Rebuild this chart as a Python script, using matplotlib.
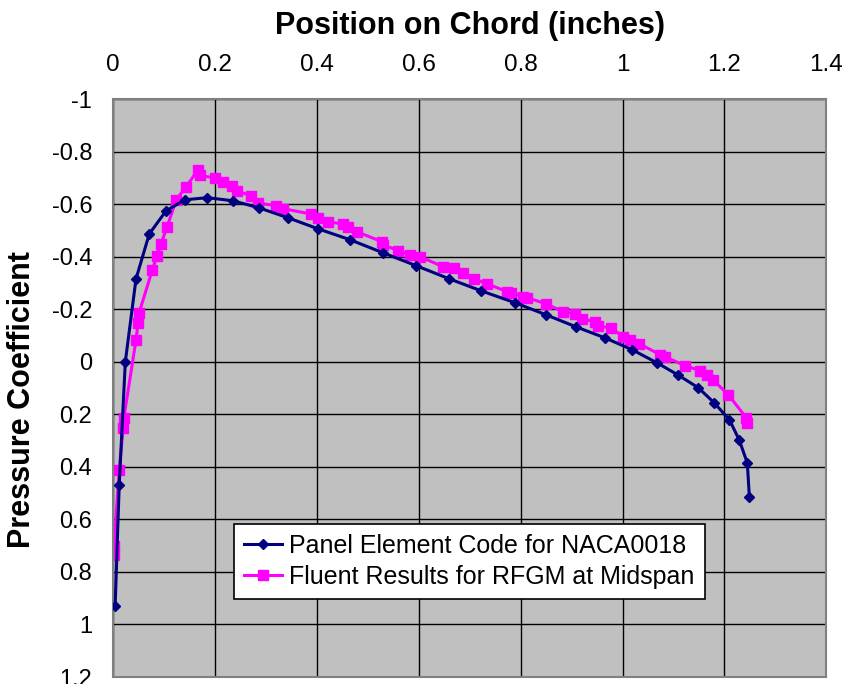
import matplotlib
matplotlib.use("Agg")
import matplotlib.pyplot as plt

# panel element code (NACA0018)
panel_x = [0.004, 0.012, 0.024, 0.045, 0.071, 0.104, 0.141, 0.185, 0.236, 0.287,
           0.344, 0.403, 0.465, 0.530, 0.595, 0.660, 0.723, 0.789, 0.850, 0.909,
           0.966, 1.019, 1.068, 1.109, 1.149, 1.180, 1.210, 1.229, 1.245, 1.249]
panel_cp = [0.93, 0.47, 0.0, -0.316, -0.487, -0.575, -0.617, -0.625, -0.613, -0.586,
            -0.548, -0.506, -0.465, -0.415, -0.366, -0.316, -0.27, -0.225, -0.179, -0.133,
            -0.091, -0.046, 0.004, 0.05, 0.099, 0.156, 0.221, 0.297, 0.385, 0.514]

# fluent results, RFGM at midspan
fluent_x = [0.002, 0.002, 0.012, 0.020, 0.021, 0.045, 0.049, 0.051, 0.077, 0.086,
            0.094, 0.106, 0.124, 0.143, 0.167, 0.170, 0.200, 0.216, 0.233, 0.244,
            0.270, 0.285, 0.320, 0.334, 0.388, 0.403, 0.422, 0.452, 0.462, 0.479,
            0.528, 0.530, 0.560, 0.583, 0.603, 0.648, 0.670, 0.687, 0.709, 0.734,
            0.774, 0.782, 0.805, 0.813, 0.850, 0.884, 0.907, 0.921, 0.946, 0.952,
            0.978, 1.001, 1.015, 1.033, 1.074, 1.084, 1.123, 1.153, 1.166, 1.178,
            1.208, 1.243, 1.245]
fluent_cp = [0.735, 0.70, 0.41, 0.25, 0.215, -0.084, -0.148, -0.186, -0.35, -0.403,
             -0.449, -0.514, -0.617, -0.666, -0.731, -0.71, -0.70, -0.686, -0.670, -0.651,
             -0.632, -0.605, -0.594, -0.583, -0.563, -0.548, -0.533, -0.525, -0.514, -0.495,
             -0.457, -0.446, -0.423, -0.407, -0.400, -0.362, -0.358, -0.339, -0.316, -0.297,
             -0.267, -0.263, -0.248, -0.244, -0.221, -0.190, -0.183, -0.164, -0.152, -0.137,
             -0.129, -0.095, -0.084, -0.069, -0.027, -0.019, 0.015, 0.034, 0.05, 0.069,
             0.126, 0.213, 0.232]

x_ticks = [0, 0.2, 0.4, 0.6, 0.8, 1, 1.2, 1.4]
x_labels = ["0", "0.2", "0.4", "0.6", "0.8", "1", "1.2", "1.4"]
y_ticks = [-1, -0.8, -0.6, -0.4, -0.2, 0, 0.2, 0.4, 0.6, 0.8, 1, 1.2]
y_labels = ["-1", "-0.8", "-0.6", "-0.4", "-0.2", "0", "0.2", "0.4", "0.6", "0.8", "1", "1.2"]

plt.rcParams['font.family'] = ['Liberation Sans', 'DejaVu Sans']
plt.rcParams['axes.unicode_minus'] = False

fig = plt.figure(figsize=(8.44, 6.84), dpi=100)
ax = fig.add_axes([0.134, 0.0102, 0.845, 0.8448])
ax.set_facecolor('#C0C0C0')

ax.plot(panel_x, panel_cp, color='#000080', lw=2.2, marker='D', ms=5.5,
        label='Panel Element Code for NACA0018', zorder=3)
ax.plot(fluent_x, fluent_cp, color='#FF00FF', lw=2.2, marker='s', ms=7,
        label='Fluent Results for RFGM at Midspan', zorder=2)

ax.set_xlim(0, 1.4)
ax.set_ylim(1.2, -1)
ax.set_xticks(x_ticks)
ax.set_xticklabels(x_labels, fontsize=17.5)
ax.set_yticks(y_ticks)
ax.set_yticklabels(y_labels, fontsize=17)
ax.xaxis.tick_top()
ax.xaxis.set_label_position('top')
ax.tick_params(axis='x', length=0, pad=17)
ax.tick_params(axis='y', length=0, pad=15)
ax.grid(True, color='black', lw=1)
ax.set_axisbelow(True)
for s in ax.spines.values():
    s.set_color('#808080')
    s.set_linewidth(1.5)

ax.set_xlabel('Position on Chord (inches)', fontsize=22, fontweight='bold', labelpad=14)
ax.set_ylabel('Pressure Coefficient', fontsize=22, fontweight='bold')
ax.yaxis.set_label_coords(-0.106, 0.48)

leg = ax.legend(loc='center', bbox_to_anchor=(0.5, 0.20), fontsize=18,
                frameon=True, fancybox=False, framealpha=1, edgecolor='black',
                borderpad=0.4, labelspacing=0.3, handlelength=1.5, handletextpad=0.3,
                borderaxespad=0)
leg.get_frame().set_linewidth(1.2)

fig.savefig('out.png', dpi=100)
